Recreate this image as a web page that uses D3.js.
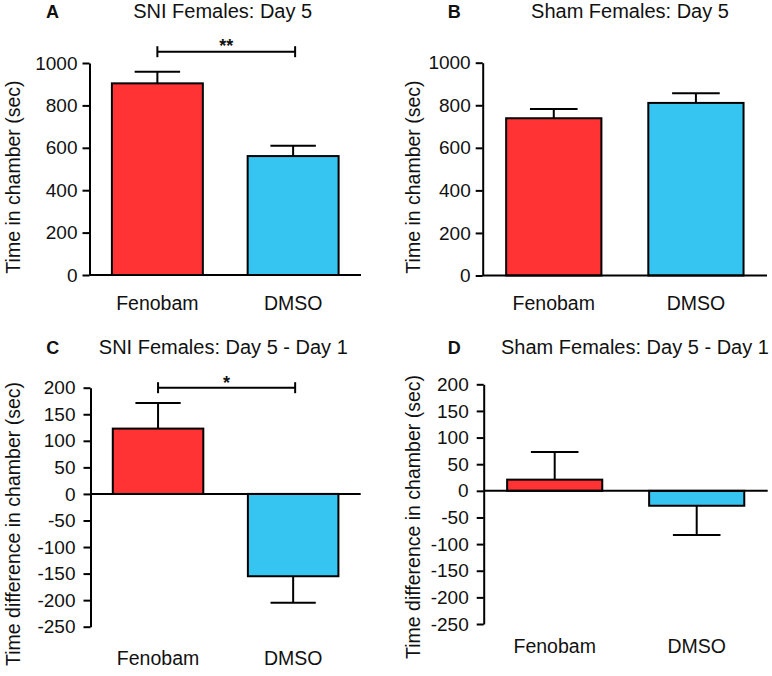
<!DOCTYPE html>
<html>
<head>
<meta charset="utf-8">
<script src="https://cdn.jsdelivr.net/npm/d3@7"></script>
<style>
  html, body { margin: 0; padding: 0; background: #fff; }
  svg { display: block; }
  text { font-family: "Liberation Sans", Arial, Helvetica, sans-serif; fill: #111; }
</style>
</head>
<body>
<svg id="chart" width="772" height="676"></svg>
<script>
// ---- data ----
const categories = ["Fenobam", "DMSO"];
const colors = ["#FF3333", "#36C5F0"];

const sniDay5Values = [904, 561];
const sniDay5Errors = [55, 49];
const shamDay5Values = [739, 811];
const shamDay5Errors = [43, 45];
const sniDiffValues = [123, -155];
const sniDiffErrors = [48, 50];
const shamDiffValues = [21, -28];
const shamDiffErrors = [52, 55];

const day5Ticks = [0, 200, 400, 600, 800, 1000];
const diffTicks = [200, 150, 100, 50, 0, -50, -100, -150, -200, -250];

const panelLetters = ["A", "B", "C", "D"];
const panelTitles = ["SNI Females: Day 5", "Sham Females: Day 5", "SNI Females: Day 5 - Day 1", "Sham Females: Day 5 - Day 1"];
const yLabels = ["Time in chamber (sec)", "Time in chamber (sec)", "Time difference in chamber (sec)", "Time difference in chamber (sec)"];
const sigMarks = ["**", null, "*", null];

// ---- layout ----
const panels = [
  { values: sniDay5Values, errors: sniDay5Errors, domain: [0, 1000], ticks: day5Ticks, pad: 5,
    x0: 89.5, x1: 361, yTop: 63, yBot: 275, letterX: 52.5, titleX: 222.7, titleAnchor: "middle", titleY: 18,
    ylabX: 19.5, ylabY: 177, catY: 310, sigY: 51.7, sigTextY: 52 },
  { values: shamDay5Values, errors: shamDay5Errors, domain: [0, 1000], ticks: day5Ticks, pad: 5,
    x0: 482.7, x1: 767, yTop: 62.7, yBot: 275.5, letterX: 454.3, titleX: 630, titleAnchor: "middle", titleY: 18,
    ylabX: 420, ylabY: 177, catY: 310 },
  { values: sniDiffValues, errors: sniDiffErrors, domain: [-250, 200], ticks: diffTicks, pad: 8,
    x0: 90.5, x1: 360.7, yTop: 387.7, yBot: 626.7, letterX: 52.7, titleX: 223.3, titleAnchor: "middle", titleY: 353.5,
    ylabX: 19.5, ylabY: 524, catY: 665, sigY: 387.7, sigTextY: 389 },
  { values: shamDiffValues, errors: shamDiffErrors, domain: [-250, 200], ticks: diffTicks, pad: 8,
    x0: 483.7, x1: 767.7, yTop: 384.3, yBot: 624, letterX: 454.3, titleX: 501, titleAnchor: "start", titleY: 354,
    ylabX: 420, ylabY: 517, catY: 652.5 }
];

const svg = d3.select("#chart");
const fmt = d => String(d); // plain hyphen-minus like the original

panels.forEach((p, i) => {
  const g = svg.append("g");
  const x = d3.scaleBand().domain(categories).range([p.x0, p.x1]).paddingInner(0.33).paddingOuter(0.165);
  const y = d3.scaleLinear().domain(p.domain).range([p.yBot, p.yTop]);
  const bw = x.bandwidth();

  // bars
  g.selectAll("rect.bar").data(p.values).join("rect")
    .attr("x", (d, j) => x(categories[j]))
    .attr("width", bw)
    .attr("y", d => y(Math.max(0, d)))
    .attr("height", d => Math.abs(y(d) - y(0)))
    .attr("fill", (d, j) => colors[j])
    .attr("stroke", "#000").attr("stroke-width", 2);

  // error bars (one-sided, away from zero)
  p.values.forEach((v, j) => {
    const cx = x(categories[j]) + bw / 2;
    const end = v >= 0 ? v + p.errors[j] : v - p.errors[j];
    g.append("line").attr("x1", cx).attr("x2", cx).attr("y1", y(v)).attr("y2", y(end))
      .attr("stroke", "#000").attr("stroke-width", 2);
    g.append("line").attr("x1", cx - bw / 4).attr("x2", cx + bw / 4).attr("y1", y(end)).attr("y2", y(end))
      .attr("stroke", "#000").attr("stroke-width", 2);
  });

  // zero / baseline
  g.append("line").attr("x1", p.x0).attr("x2", p.x1).attr("y1", y(0)).attr("y2", y(0))
    .attr("stroke", "#000").attr("stroke-width", 2);

  // y axis
  const ax = g.append("g").attr("transform", `translate(${p.x0},0)`)
    .call(d3.axisLeft(y).tickValues(p.ticks).tickSize(7).tickSizeOuter(0).tickPadding(p.pad).tickFormat(fmt));
  ax.select(".domain").attr("stroke", "#000").attr("stroke-width", 2);
  ax.selectAll(".tick line").attr("stroke", "#000").attr("stroke-width", 2);
  ax.selectAll(".tick text").attr("font-size", 19).attr("fill", "#111")
    .style("font-family", '"Liberation Sans", Arial, sans-serif');

  // category labels
  g.selectAll("text.cat").data(categories).join("text")
    .attr("x", d => x(d) + bw / 2).attr("y", p.catY)
    .attr("text-anchor", "middle").attr("font-size", 19.5).text(d => d);

  // y label
  g.append("text").attr("transform", `translate(${p.ylabX},${p.ylabY}) rotate(-90)`)
    .attr("text-anchor", "middle").attr("font-size", 19.5).text(yLabels[i]);

  // panel letter and title
  g.append("text").attr("x", p.letterX).attr("y", p.titleY).attr("text-anchor", "middle")
    .attr("font-size", 18).attr("font-weight", "bold").text(panelLetters[i]);
  g.append("text").attr("x", p.titleX).attr("y", p.titleY).attr("text-anchor", p.titleAnchor)
    .attr("font-size", 20).text(panelTitles[i]);

  // significance bracket
  if (sigMarks[i]) {
    const xa = x(categories[0]) + bw / 2;
    const xb = x(categories[1]) + bw / 2 + 2;
    g.append("line").attr("x1", xa).attr("x2", xb).attr("y1", p.sigY).attr("y2", p.sigY)
      .attr("stroke", "#000").attr("stroke-width", 2);
    [xa, xb].forEach(xx => g.append("line").attr("x1", xx).attr("x2", xx)
      .attr("y1", p.sigY - 5.5).attr("y2", p.sigY + 5.5).attr("stroke", "#000").attr("stroke-width", 2));
    g.append("text").attr("x", (xa + xb) / 2).attr("y", p.sigTextY).attr("text-anchor", "middle")
      .attr("font-size", 18).attr("font-weight", "bold").text(sigMarks[i]);
  }
});
</script>
</body>
</html>
